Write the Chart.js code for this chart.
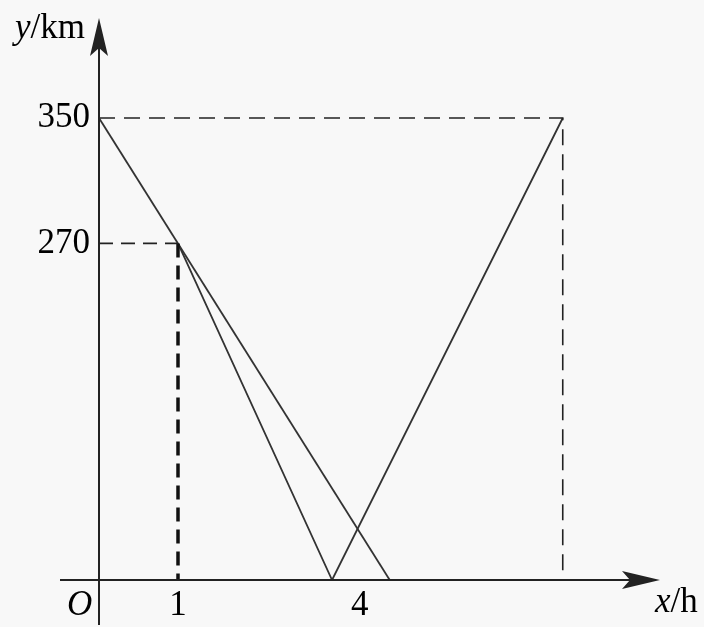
<!DOCTYPE html>
<html>
<head>
<meta charset="utf-8">
<script src="https://cdn.jsdelivr.net/npm/chart.js@4"></script>
<style>
  html, body { margin: 0; padding: 0; background: #f8f8f8; }
</style>
</head>
<body>
<canvas id="chart" width="704" height="627"></canvas>
<script>
// values (schematic figure, positions as drawn)
var lineAHours = [0, 3.68];
var lineAKm = [350, 0];
var lineBHours = [1, 2.95, 5.87];
var lineBKm = [255, 0, 350];
var guide350Hours = [0, 5.87, 5.87];
var guide350Km = [350, 350, 0];
var guide270Hours = [0, 1];
var guide270Km = [255, 255];
var drop1Hours = [1, 1];
var drop1Km = [255, 0];

var xTickPos = [1, 3.3];
var xTickText = ['1', '4'];
var yTickPos = [255, 350];
var yTickText = ['270', '350'];

function pts(xs, ys) {
  return xs.map(function (x, i) { return { x: x, y: ys[i] }; });
}

var serif = '"Liberation Serif", "DejaVu Serif", serif';
var ink = '#222';

var axesPlugin = {
  id: 'axes',
  beforeDraw: function (chart) {
    var ctx = chart.ctx;
    ctx.save();
    ctx.fillStyle = '#f8f8f8';
    ctx.fillRect(0, 0, chart.width, chart.height);
    ctx.restore();
  },
  afterDraw: function (chart) {
    var ctx = chart.ctx, xs = chart.scales.x, ys = chart.scales.y, area = chart.chartArea;
    var x0 = xs.getPixelForValue(0), y0 = ys.getPixelForValue(0);
    ctx.save();
    ctx.strokeStyle = ink;
    ctx.fillStyle = ink;
    ctx.lineWidth = 2;
    // x axis
    ctx.beginPath();
    ctx.moveTo(x0 - 39, y0);
    ctx.lineTo(area.right - 20, y0);
    ctx.stroke();
    // y axis
    ctx.beginPath();
    ctx.moveTo(x0, chart.height - 2);
    ctx.lineTo(x0, area.top + 20);
    ctx.stroke();
    // arrow heads
    var tx = area.right;
    ctx.beginPath();
    ctx.moveTo(tx, y0);
    ctx.lineTo(tx - 38, y0 - 9);
    ctx.lineTo(tx - 30, y0);
    ctx.lineTo(tx - 38, y0 + 9);
    ctx.closePath();
    ctx.fill();
    var ty = area.top;
    ctx.beginPath();
    ctx.moveTo(x0, ty);
    ctx.lineTo(x0 - 9, ty + 38);
    ctx.lineTo(x0, ty + 30);
    ctx.lineTo(x0 + 9, ty + 38);
    ctx.closePath();
    ctx.fill();

    // labels
    ctx.fillStyle = '#000';
    ctx.textBaseline = 'alphabetic';
    ctx.textAlign = 'left';
    ctx.font = 'italic 35px ' + serif;
    ctx.fillText('y', 15, 38);
    var w = ctx.measureText('y').width;
    ctx.font = '35px ' + serif;
    ctx.fillText('/km', 15 + w, 38);

    ctx.font = 'italic 35px ' + serif;
    ctx.fillText('x', 655, 612);
    w = ctx.measureText('x').width;
    ctx.font = '35px ' + serif;
    ctx.fillText('/h', 655 + w, 612);

    ctx.font = 'italic 35px ' + serif;
    ctx.fillText('O', 67, 615);
    ctx.restore();
  }
};

new Chart(document.getElementById('chart'), {
  type: 'line',
  data: {
    datasets: [
      { data: pts(guide350Hours, guide350Km), borderColor: ink, borderWidth: 1.6, borderDash: [16, 9] },
      { data: pts(guide270Hours, guide270Km), borderColor: ink, borderWidth: 1.6, borderDash: [14, 8] },
      { data: pts(drop1Hours, drop1Km), borderColor: '#111', borderWidth: 3.5, borderDash: [14, 8] },
      { data: pts(lineAHours, lineAKm), borderColor: '#333', borderWidth: 1.8 },
      { data: pts(lineBHours, lineBKm), borderColor: '#333', borderWidth: 1.8 }
    ]
  },
  options: {
    responsive: false,
    animation: false,
    events: [],
    layout: { padding: { left: 0, right: 44, top: 18, bottom: 0 } },
    elements: { point: { radius: 0 }, line: { tension: 0, fill: false } },
    plugins: { legend: { display: false }, tooltip: { enabled: false } },
    scales: {
      x: {
        type: 'linear',
        min: 0,
        max: 7.101,
        grid: { display: false, drawTicks: false },
        border: { display: false },
        afterFit: function (s) { s.height = 47; s.paddingLeft = 0; s.paddingRight = 0; },
        afterBuildTicks: function (s) { s.ticks = xTickPos.map(function (v) { return { value: v }; }); },
        ticks: {
          autoSkip: false,
          maxRotation: 0,
          padding: 8,
          color: '#000',
          font: { family: serif, size: 35, lineHeight: 1 },
          callback: function (v, i) { return xTickText[i]; }
        }
      },
      y: {
        type: 'linear',
        min: 0,
        max: 425.76,
        grid: { display: false, drawTicks: false },
        border: { display: false },
        afterFit: function (s) { s.width = 99; s.paddingTop = 0; s.paddingBottom = 0; },
        afterBuildTicks: function (s) { s.ticks = yTickPos.map(function (v) { return { value: v }; }); },
        ticks: {
          autoSkip: false,
          padding: 9,
          color: '#000',
          font: { family: serif, size: 35, lineHeight: 1 },
          callback: function (v, i) { return yTickText[i]; }
        }
      }
    }
  },
  plugins: [axesPlugin]
});
</script>
</body>
</html>
